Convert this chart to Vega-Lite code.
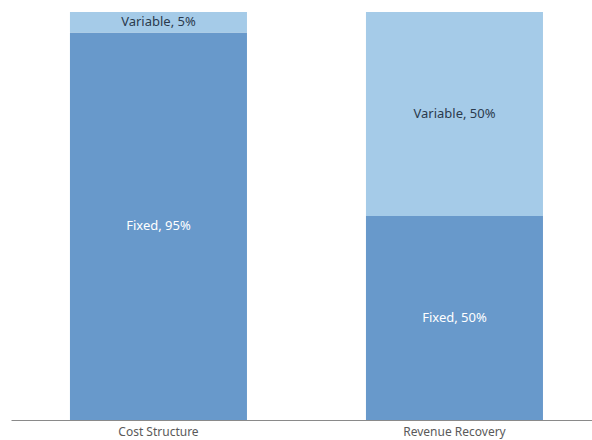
{
  "$schema": "https://vega.github.io/schema/vega-lite/v6.json",
  "width": 581,
  "height": 408,
  "autosize": "none",
  "padding": {"left": 11, "top": 12, "right": 0, "bottom": 20},
  "background": "white",
  "config": {"view": {"stroke": null}, "font": "Noto Sans"},
  "data": {"values": [
    {"category": "Cost Structure", "type": "Fixed", "value": 95},
    {"category": "Cost Structure", "type": "Variable", "value": 5},
    {"category": "Revenue Recovery", "type": "Fixed", "value": 50},
    {"category": "Revenue Recovery", "type": "Variable", "value": 50}
  ]},
  "transform": [
    {"stack": "value", "groupby": ["category"], "sort": [{"field": "type", "order": "ascending"}], "as": ["v0", "v1"]},
    {"calculate": "(datum.v0 + datum.v1) / 2", "as": "mid"},
    {"calculate": "datum.type + ', ' + datum.value + '%'", "as": "label"}
  ],
  "encoding": {
    "x": {
      "field": "category", "type": "nominal", "title": null,
      "scale": {"paddingInner": 0.402, "paddingOuter": 0.1824, "align": 0.546},
      "axis": {"labelAngle": 0, "ticks": false, "domainColor": "#8a8a8a", "labelColor": "#5a5a5a", "labelFontSize": 12, "labelPadding": 6, "labelFont": "Noto Sans", "grid": false}
    }
  },
  "layer": [
    {
      "mark": {"type": "bar"},
      "encoding": {
        "y": {"field": "v1", "type": "quantitative", "scale": {"domain": [0, 100], "nice": false}, "axis": null},
        "y2": {"field": "v0"},
        "color": {"field": "type", "type": "nominal", "scale": {"domain": ["Fixed", "Variable"], "range": ["#6899cb", "#a5cbe8"]}, "legend": null}
      }
    },
    {
      "mark": {"type": "text", "fontSize": 13, "baseline": "middle"},
      "encoding": {
        "y": {"field": "mid", "type": "quantitative", "scale": {"domain": [0, 100], "nice": false}},
        "text": {"field": "label"},
        "color": {"field": "type", "type": "nominal", "scale": {"domain": ["Fixed", "Variable"], "range": ["#ffffff", "#2b3a4d"]}, "legend": null}
      }
    }
  ],
  "resolve": {"scale": {"color": "independent"}}
}
